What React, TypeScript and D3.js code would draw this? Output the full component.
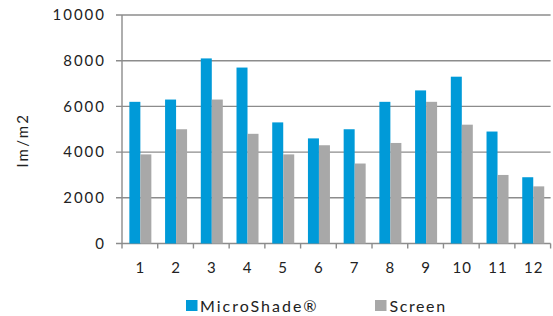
import React from "react";
import * as d3 from "d3";

const categories = ["1", "2", "3", "4", "5", "6", "7", "8", "9", "10", "11", "12"];
const microShade = [6200, 6300, 8100, 7700, 5300, 4600, 5000, 6200, 6700, 7300, 4900, 2900];
const screen = [3900, 5000, 6300, 4800, 3900, 4300, 3500, 4400, 6200, 5200, 3000, 2500];
const yTicks = [0, 2000, 4000, 6000, 8000, 10000];
const seriesNames = ["MicroShade®", "Screen"];
const colors = ["#009ad8", "#a8a8a8"];

export default function App() {
  const W = 553, H = 316;
  const left = 122, right = 550.6, top = 15, bottom = 243.5;
  const x = d3.scaleBand<string>().domain(categories).range([left, right]);
  const y = d3.scaleLinear().domain([0, 10000]).range([bottom, top]);
  const bw = x.bandwidth();
  const barW = 11;
  const offset = (bw - 2 * barW) / 2 + 0.5;
  const font = "Lato, 'Open Sans', sans-serif";
  const axisColor = "#8c8c8c";
  const ls = 2;
  return (
    <svg width={W} height={H} style={{ position: "absolute", left: 0, top: 0 }}>
      <rect width={W} height={H} fill="#fff" />
      {yTicks.map((t) => (
        <g key={t}>
          <line x1={116} x2={right} y1={y(t)} y2={y(t)} stroke={axisColor} strokeWidth={1.4} />
          <text x={104 + ls} y={y(t)} dy="0.35em" textAnchor="end" fontFamily={font} fontSize={15} letterSpacing={ls} fill="#222">{t}</text>
        </g>
      ))}
      <line x1={left} x2={left} y1={top} y2={bottom + 5} stroke={axisColor} strokeWidth={1.4} />
      {categories.map((c, i) => (
        <g key={c}>
          <line x1={x(c)! + bw} x2={x(c)! + bw} y1={bottom} y2={bottom + 5} stroke={axisColor} strokeWidth={1.4} />
          <rect x={x(c)! + offset} y={y(microShade[i])} width={barW} height={bottom - y(microShade[i])} fill={colors[0]} />
          <rect x={x(c)! + offset + barW} y={y(screen[i])} width={barW} height={bottom - y(screen[i])} fill={colors[1]} />
          <text x={x(c)! + bw / 2 + (c.length > 1 ? 1 : 0.5)} y={273} textAnchor="middle" fontFamily={font} fontSize={15} letterSpacing={1} fill="#222">{c}</text>
        </g>
      ))}
      <text transform={`translate(28,140) rotate(-90)`} textAnchor="middle" fontFamily={font} fontSize={15} letterSpacing={2.2} fill="#222">lm/m2</text>
      <rect x={186} y={300} width={11.5} height={11} fill={colors[0]} />
      <text x={200} y={311.5} fontFamily={font} fontSize={16} letterSpacing={2} fill="#222">{seriesNames[0]}</text>
      <rect x={375} y={300} width={11.5} height={11} fill={colors[1]} />
      <text x={389.5} y={311.5} fontFamily={font} fontSize={16} letterSpacing={1.6} fill="#222">{seriesNames[1]}</text>
    </svg>
  );
}
